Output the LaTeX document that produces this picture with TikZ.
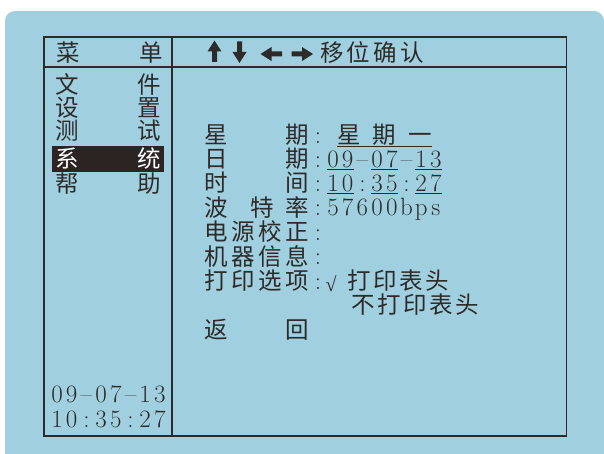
\documentclass[tikz,border=0pt]{standalone}
\usepackage{fontspec}
\usepackage{tikz}
\usetikzlibrary{calc}
\newfontfamily\cjk{Noto Sans CJK SC}
\newfontfamily\symfont{Liberation Serif}
\definecolor{PanelBlue}{RGB}{160,208,223}
\definecolor{InkGray}{RGB}{45,42,42}
\definecolor{BarDark}{RGB}{43,36,34}
\tikzset{
	zh/.style={font=\cjk\fontsize{23.5}{23.5}\selectfont, text=InkGray, inner sep=0pt, text height=19.5pt, text depth=1.6pt},
	num/.style={font=\rmfamily\fontsize{25}{25}\selectfont, text=InkGray, inner sep=0pt, text height=16.1pt, text depth=0pt},
	uline/.style={InkGray, line width=1.2pt},
	frame/.style={InkGray, line width=1.8pt}
}
\newcommand{\KeyArrow}[2][0]{
	\def\krot{#1}
	\def\kpin{#2}
	\begin{scope}[shift={(\kpin)}, rotate=\krot]
		\fill[InkGray] (-10.5,-2.5) -- (0,-2.5) -- (0,-7) -- (11,0) -- (0,7) -- (0,2.5) -- (-10.5,2.5) -- cycle;
	\end{scope}
}
\newcommand{\ZhRow}[5]{
	\foreach \ch [count=\i from 0] in {#5}
		\node[zh] (#1\i) at ({#2+#3*\i},#4) {\ch};
}
\newcommand{\MonoRow}[4]{
	\foreach \ch [count=\i from 0] in {#4}
		\node[num] (#1\i) at ({#2+14.7*\i},#3) {\ch};
}

\begin{document}
\begin{tikzpicture}[x=1pt, y=-1pt]
	\useasboundingbox (0,0) rectangle (604,454);
	\fill[PanelBlue, rounded corners=10pt] (5,11) rectangle (604,480);

	% frame of the screen
	\draw[frame] (44,37) rectangle (566.5,436);
	\draw[frame] (44,67) -- (566.5,67);
	\draw[frame] (172,37) -- (172,436);

	% header
	\node[zh] (cai) at (68.5,52.5) {菜};
	\node[zh] (dan) at (151,52.5) {单};
	\coordinate (kUp) at (214.5,51.5);
	\coordinate (kDown) at (239.5,52);
	\coordinate (kLeft) at (271.5,54);
	\coordinate (kRight) at (302,54);
	\KeyArrow[90]{kUp}
	\KeyArrow[-90]{kDown}
	\KeyArrow[180]{kLeft}
	\KeyArrow{kRight}
	\ZhRow{hint}{332}{26.7}{53}{移,位,确,认}

	% menu
	\foreach \a/\b/\y [count=\i] in {文/件/85, 设/置/108, 测/试/131, 帮/助/184}{
		\node[zh] (ml\i) at (67.5,\y) {\a};
		\node[zh] (mr\i) at (149,\y) {\b};
	}
	\fill[BarDark] (52,146) rectangle (164,172);
	\node[zh, text=white] (xi) at (67.5,159) {系};
	\node[zh, text=white] (tong) at (149,159) {统};
	\MonoRow{cd}{57}{394.5}{0,9,--,0,7,--,1,3}
	\MonoRow{ct}{57}{419}{1,0,:,3,5,:,2,7}

	% labels
	\node[zh] (xq0) at (216,135) {星};
	\node[zh] (xq1) at (297,135) {期};
	\node[zh] (rq0) at (216,159) {日};
	\node[zh] (rq1) at (297,159) {期};
	\node[zh] (sj0) at (216,183) {时};
	\node[zh] (sj1) at (297,183) {间};
	\node[zh] (bt0) at (216,207.5) {波};
	\node[zh] (bt1) at (262,207.5) {特};
	\node[zh] (bt2) at (297,207.5) {率};
	\ZhRow{dy}{216}{27}{232}{电,源,校,正}
	\ZhRow{jq}{216}{27}{256.5}{机,器,信,息}
	\ZhRow{dx}{216}{27}{281}{打,印,选,项}
	\node[zh] (fh0) at (216,329.5) {返};
	\node[zh] (fh1) at (297,329.5) {回};
	\foreach \y [count=\i] in {135,159,183,207.5,232,256.5,281}
		\node[num] (col\i) at (318,\y) {:};

	% values
	\ZhRow{xqv}{349}{35.5}{135}{星,期,一}
	\draw[uline] ([yshift=-1pt]xqv0.south west) -- ([yshift=-1pt]xqv2.south east);
	\MonoRow{rqv}{333}{159}{0,9,--,0,7,--,1,3}
	\MonoRow{sjv}{333}{183}{1,0,:,3,5,:,2,7}
	\foreach \a/\b in {0/1, 3/4, 6/7}{
		\draw[uline] ([yshift=-2.5pt]rqv\a.south west) -- ([yshift=-2.5pt]rqv\b.south east);
		\draw[uline] ([yshift=-2.5pt]sjv\a.south west) -- ([yshift=-2.5pt]sjv\b.south east);
	}
	\MonoRow{btv}{333}{207.5}{5,7,6,0,0,b,p,s}
	\node[zh, font=\symfont\fontsize{20}{20}\selectfont] (gou) at (331,283) {√};
	\ZhRow{yes}{359}{26}{281}{打,印,表,头}
	\ZhRow{no}{363}{26}{305}{不,打,印,表,头}
\end{tikzpicture}
\end{document}
